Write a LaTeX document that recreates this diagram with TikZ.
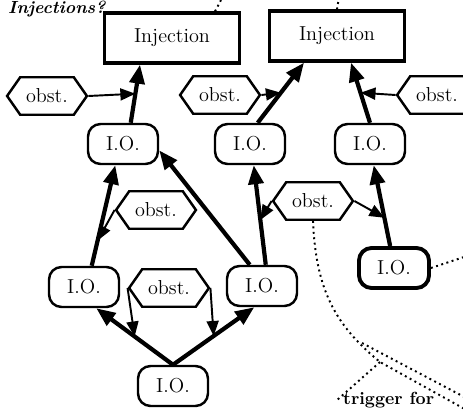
\documentclass[tikz,border=0pt]{standalone}
\usepackage{amsmath}
\usepackage{amssymb}
\usepackage{tikz}
\usetikzlibrary{arrows.meta,shapes.symbols,calc}

\begin{document}
\begin{tikzpicture}[x=0.02cm,y=-0.02cm,
  inj/.style={draw,line width=1.9pt,minimum width=2.7cm,minimum height=1cm,font=\fontsize{11.5}{13}\selectfont},
  iobox/.style={draw,line width=1.4pt,rounded corners=0.25cm,minimum width=1.4cm,minimum height=0.8cm,font=\fontsize{11.5}{13}\selectfont},
  obst/.style={draw,line width=1.4pt,signal,signal to=west and east,signal pointer angle=110,minimum width=1.45cm,minimum height=0.75cm,font=\fontsize{11.5}{13}\selectfont},
  link/.style={line width=2.4pt,-{Triangle[length=0.38cm,width=0.3cm]}},
  hint/.style={line width=1.1pt,-{Triangle[length=0.3cm,width=0.24cm]}},
  trace/.style={line width=1.1pt,dotted}]
\path[use as bounding box,clip] (0,0) rectangle (463,412);

\node[inj] (inj1) at (172,38) {Injection};
\node[inj] (inj2) at (337,36) {Injection};
\node[obst] (ob1) at (47,96) {obst.};
\node[obst] (ob2) at (220,95) {obst.};
\node[obst] (ob3) at (437,95) {obst.};
\node[iobox] (io1) at (123,144) {I.O.};
\node[iobox] (io2) at (250,144) {I.O.};
\node[iobox] (io3) at (370,144) {I.O.};
\node[obst] (ob4) at (156,210) {obst.};
\node[obst] (ob5) at (313,201) {obst.};
\node[iobox,line width=2.2pt] (io4) at (394,268) {I.O.};
\node[iobox] (io5) at (84,287) {I.O.};
\node[obst] (ob6) at (169,288) {obst.};
\node[iobox] (io6) at (262,286) {I.O.};
\node[iobox] (io7) at (173,386) {I.O.};
\node[anchor=base west,font=\fontsize{10}{12}\selectfont\bfseries\itshape] (title) at (2,14) {Injections?};
\node[anchor=north west,font=\fontsize{10}{12}\selectfont\bfseries] (trig) at (337,386) {trigger for};

\draw[link] (io1.70) -- coordinate[pos=0.5] (m1) ($(inj1.south)+(-32,0)$);
\draw[link] (io2.70) -- coordinate[pos=0.5] (m2) ($(inj2.south)+(-33,0)$);
\draw[link] (io3.north) -- coordinate[pos=0.5] (m3) ($(inj2.south)+(14,0)$);
\draw[link] (io5.70) -- coordinate[pos=0.25] (m4) (io1.-110);
\draw[link] (io6.120) -- (io1.-10);
\draw[link] (io6.80) -- coordinate[pos=0.45] (m5) (io2.-80);
\draw[link] (io4.100) -- coordinate[pos=0.35] (m6) (io3.-80);
\draw[link] (io7.north) -- coordinate[pos=0.5] (m7) (io5.-60);
\draw[link] (io7.north) -- coordinate[pos=0.5] (m8) (io6.-110);

\draw[hint] (ob1.east) -- (m1);
\draw[hint] (ob2.east) -- (m2);
\draw[hint] (ob3.west) -- (m3);
\draw[hint] (ob4.west) -- (m4);
\draw[hint] (ob5.west) -- (m5);
\draw[hint] (ob5.east) -- (m6);
\draw[hint] (ob6.west) -- (m7);
\draw[hint] (ob6.east) -- (m8);

\coordinate (fork) at (380,362);
\draw[trace] (ob5.south) .. controls (316,290) and (335,325) .. (fork) -- (470,412);
\draw[trace] (362,343) -- (470,400);
\draw[trace] (fork) -- (trig.west);
\draw[trace] (io4.east) -- (470,255);
\draw[trace] ($(inj1.north)+(43,0)$) -- ++(8,-15);
\draw[trace] (inj2.north) -- ++(2,-12);
\end{tikzpicture}
\end{document}
